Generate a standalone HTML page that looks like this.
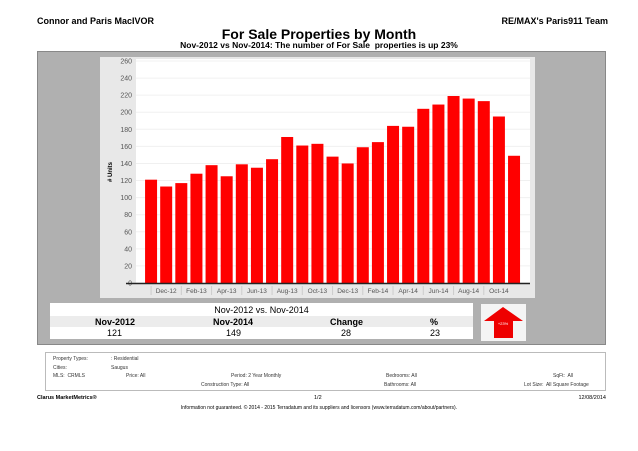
<!DOCTYPE html>
<html><head><meta charset="utf-8"><style>
body{margin:0;width:638px;height:451px;background:#fff;font-family:"Liberation Sans",sans-serif;position:relative;overflow:hidden}
.a{position:absolute;white-space:nowrap}
</style></head><body>
<div class="a" style="left:37px;top:16px;font-size:9px;font-weight:bold">Connor and Paris MacIVOR</div>
<div class="a" style="right:30px;top:16px;font-size:9px;font-weight:bold">RE/MAX's Paris911 Team</div>
<div class="a" style="left:0;width:638px;text-align:center;top:26px;font-size:14px;font-weight:bold">For Sale Properties by Month</div>
<div class="a" style="left:0;width:638px;text-align:center;top:40px;font-size:8.5px;font-weight:bold">Nov-2012 vs Nov-2014: The number of For Sale&nbsp; properties is up 23%</div>
<div class="a" style="left:37px;top:51px;width:569px;height:294px;background:#b0b0b0;border:1px solid #888;box-sizing:border-box"></div>
<svg class="a" style="left:0;top:0" width="638" height="451" id="chart"></svg>
<div class="a" style="left:50px;top:303px;width:423px;height:36px;background:#fff;font-size:9px">
<div class="a" style="left:0;width:423px;text-align:center;top:2px">Nov-2012 vs. Nov-2014</div>
<div class="a" style="left:0;top:13px;width:423px;height:11px;background:#ececec"></div>
<div class="a" style="left:45px;top:14px;font-weight:bold">Nov-2012</div>
<div class="a" style="left:163px;top:14px;font-weight:bold">Nov-2014</div>
<div class="a" style="left:280px;top:14px;font-weight:bold">Change</div>
<div class="a" style="left:380px;top:14px;font-weight:bold">%</div>
<div class="a" style="left:57px;top:25px">121</div>
<div class="a" style="left:176px;top:25px">149</div>
<div class="a" style="left:291px;top:25px">28</div>
<div class="a" style="left:380px;top:25px">23</div>
</div>
<div class="a" style="left:481px;top:304px;width:45px;height:37px;background:#f4f4f4">
<svg width="45" height="37"><polygon points="22,3 42,17 32,17 32,34 13,34 13,17 3,17" fill="#e00"/><text x="22" y="21" font-size="4" fill="#fff" text-anchor="middle" font-family="Liberation Sans">+23%</text></svg></div>
<div class="a" style="left:45px;top:352px;width:561px;height:39px;border:1px solid #bbb;box-sizing:border-box;font-size:5px;color:#333">
<div class="a" style="left:7px;top:3px">Property Types:</div>
<div class="a" style="left:65px;top:3px">: Residential</div>
<div class="a" style="left:7px;top:12px">Cities:</div>
<div class="a" style="left:65px;top:12px">Saugus</div>
<div class="a" style="left:7px;top:20px">MLS:&nbsp; CRMLS</div>
<div class="a" style="left:80px;top:20px">Price: All</div>
<div class="a" style="left:185px;top:20px">Period: 2 Year Monthly</div>
<div class="a" style="left:155px;top:29px">Construction Type: All</div>
<div class="a" style="left:340px;top:20px">Bedrooms: All</div>
<div class="a" style="left:338px;top:29px">Bathrooms: All</div>
<div class="a" style="left:507px;top:20px">SqFt:&nbsp; All</div>
<div class="a" style="left:478px;top:29px">Lot Size:&nbsp; All Square Footage</div>
</div>
<div class="a" style="left:37px;top:395px;font-size:5.5px;font-weight:bold">Clarus MarketMetrics®</div>
<div class="a" style="left:314px;top:395px;font-size:5.5px">1/2</div>
<div class="a" style="right:32px;top:395px;font-size:5.5px">12/08/2014</div>
<div class="a" style="left:0;width:638px;text-align:center;top:405px;font-size:5px">Information not guaranteed. © 2014 - 2015 Terradatum and its suppliers and licensors (www.terradatum.com/about/partners).</div>
<script>
const values=[121,113,117,128,138,125,139,135,145,171,161,163,148,140,159,165,184,183,204,209,219,216,213,195,149];
const tickLabels=["Dec-12","Feb-13","Apr-13","Jun-13","Aug-13","Oct-13","Dec-13","Feb-14","Apr-14","Jun-14","Aug-14","Oct-14"];
const yTicks=[0,20,40,60,80,100,120,140,160,180,200,220,240,260];
const NS="http://www.w3.org/2000/svg";
const svg=document.getElementById('chart');
const x0=136,x1=530,y0=283,y1=61,yMax=260;
const bandStart=143.5,bandEnd=521.6;
const step=(bandEnd-bandStart)/values.length;
const xs=i=>bandStart+step*(i+0.5);
const ys=v=>y0-(v/yMax)*(y0-y1);
function mk(t,a){const e=document.createElementNS(NS,t);for(const k in a)e.setAttribute(k,a[k]);svg.appendChild(e);return e;}
const bg=mk('rect',{x:100,y:57,width:435,height:241,fill:'#e8e8e8'});


const pa=mk('rect',{x:x0,y:59,width:x1-x0,height:y0-59,fill:'#fff'});


yTicks.forEach(v=>{
 const g=mk('line',{x1:x0,x2:x1,y1:ys(v),y2:ys(v),stroke:'#f0f0f0','stroke-width':1});
 
 
 const t=mk('text',{x:x0-4,y:ys(v)+2.5,'font-size':7,'text-anchor':'end',fill:'#555','font-family':'Liberation Sans'});
 t.textContent=v;
 
 
});
values.forEach((v,i)=>{
 const r=mk('rect',{x:xs(i)-6,y:ys(v),width:12,height:y0-ys(v),fill:'#f00'});
 
 
});
const ax=mk('line',{x1:x0-10,x2:x1,y1:y0+0.5,y2:y0+0.5,stroke:'#222','stroke-width':1.5});


tickLabels.forEach((l,k)=>{
 const i=1+2*k;
 const t=mk('text',{x:xs(i),y:y0+10,'font-size':6.5,'text-anchor':'middle',fill:'#555','font-family':'Liberation Sans'});
 t.textContent=l;
 
 
 const s=mk('line',{x1:xs(i)-step,x2:xs(i)-step,y1:y0+3,y2:y0+12,stroke:'#ccc'});
 
 
});
const yt=mk('text',{x:112,y:172,'font-size':6,'font-weight':'bold','text-anchor':'middle',transform:'rotate(-90 112 172)','font-family':'Liberation Sans'});
yt.textContent='# Units';


</script>
</body></html>
